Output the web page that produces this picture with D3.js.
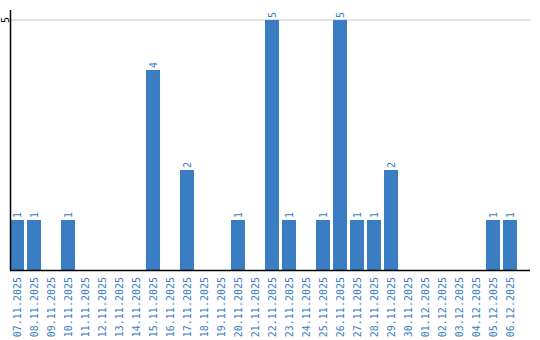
<!DOCTYPE html>
<html>
<head>
<meta charset="utf-8">
<script src="https://cdn.jsdelivr.net/npm/d3@7"></script>
<style>
  body { margin: 0; background: #fff; }
  text { font-family: "DejaVu Sans Mono", monospace; font-size: 10px; }
</style>
</head>
<body>
<div id="chart"></div>
<script>
const dates = ["07.11.2025","08.11.2025","09.11.2025","10.11.2025","11.11.2025","12.11.2025",
  "13.11.2025","14.11.2025","15.11.2025","16.11.2025","17.11.2025","18.11.2025","19.11.2025",
  "20.11.2025","21.11.2025","22.11.2025","23.11.2025","24.11.2025","25.11.2025","26.11.2025",
  "27.11.2025","28.11.2025","29.11.2025","30.11.2025","01.12.2025","02.12.2025","03.12.2025",
  "04.12.2025","05.12.2025","06.12.2025"];
const counts = [1,1,0,1,0,0,0,0,4,0,2,0,0,1,0,5,1,0,1,5,1,1,2,0,0,0,0,0,1,1];
const yTicks = [5];

const width = 540, height = 340;
const left = 10, baseline = 270, right = 530;
const blue = "#3b7dc3";

const svg = d3.select("#chart").append("svg")
  .attr("width", width)
  .attr("height", height);

const x = d3.scaleBand()
  .domain(dates)
  .range([left, left + 29 * 17 + 14])
  .paddingInner(3 / 17)
  .paddingOuter(0)
  .align(0);

const y = d3.scaleLinear().domain([0, 5]).range([baseline, 20]);

// gridline
svg.selectAll(".grid")
  .data(yTicks)
  .enter().append("line")
  .attr("x1", left).attr("x2", right)
  .attr("y1", d => y(d)).attr("y2", d => y(d))
  .attr("stroke", "#c8c8c8");

// y tick labels
svg.selectAll(".ylab")
  .data(yTicks)
  .enter().append("text")
  .attr("transform", d => `translate(8.5,${y(d)}) rotate(-90)`)
  .attr("text-anchor", "middle")
  .attr("fill", "#000")
  .text(d => d);

// bars
const data = dates.map((d, i) => ({ date: d, value: counts[i] }));

svg.selectAll(".bar")
  .data(data.filter(d => d.value > 0))
  .enter().append("rect")
  .attr("x", d => x(d.date))
  .attr("y", d => y(d.value))
  .attr("width", x.bandwidth())
  .attr("height", d => baseline - y(d.value))
  .attr("fill", blue);

// value labels
svg.selectAll(".val")
  .data(data.filter(d => d.value > 0))
  .enter().append("text")
  .attr("transform", d => `translate(${x(d.date) + x.bandwidth() / 2 + 3.5},${y(d.value) - 2}) rotate(-90)`)
  .attr("text-anchor", "start")
  .attr("fill", blue)
  .text(d => d.value);

// axes lines
svg.append("line")
  .attr("x1", left + 0.5).attr("x2", left + 0.5)
  .attr("y1", 10).attr("y2", baseline)
  .attr("stroke", "#000").attr("stroke-width", 1.5);

svg.append("line")
  .attr("x1", left).attr("x2", right)
  .attr("y1", baseline + 0.5).attr("y2", baseline + 0.5)
  .attr("stroke", "#000").attr("stroke-width", 1.5);

// x tick labels
svg.selectAll(".xlab")
  .data(dates)
  .enter().append("text")
  .attr("transform", d => `translate(${x(d) + x.bandwidth() / 2 + 3.5},${baseline + 7}) rotate(-90)`)
  .attr("text-anchor", "end")
  .attr("fill", blue)
  .text(d => d);
</script>
</body>
</html>
